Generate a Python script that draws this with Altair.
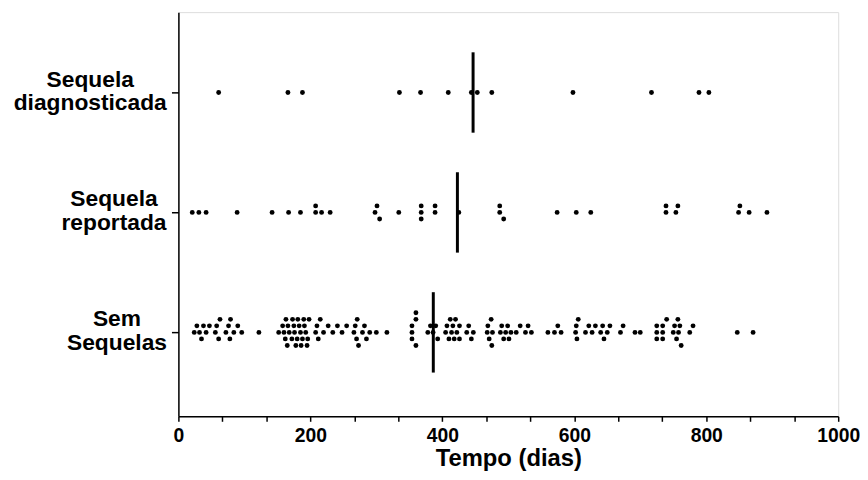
import altair as alt
import pandas as pd

# ---------------- data ----------------
categories = ["Sequela diagnosticada", "Sequela reportada", "Sem Sequelas"]
category_rows = [3, 2, 1]
label_text = ["Sequela\ndiagnosticada", "Sequela\nreportada", "Sem\nSequelas"]

diagnosticada = [61, 166, 188, 335, 367, 409, 444, 453, 475, 598, 717, 789, 804]

reportada = [21, 31, 42, 89, 142, 167, 185, 208, 208, 217, 230, 298, 301, 305,
             334, 368, 368, 368, 389, 389, 425, 487, 487, 493, 574, 603, 625,
             739, 739, 754, 757, 849, 851, 865, 892]

sem_sequelas = [24, 28, 32, 35, 38, 42, 47,
                56, 58, 61, 63, 72, 76, 78, 79,
                84, 90, 96, 122, 152,
                158, 160, 162, 163, 165, 166, 168, 172, 173, 175, 176, 178,
                180, 181, 183, 185, 186, 188, 190, 191, 193, 195, 196, 198,
                208, 210, 212, 215, 220,
                227, 234, 241, 248, 255,
                266, 268, 270, 271, 273,
                279, 282, 285, 290, 300, 316,
                354, 354, 354, 360, 360, 360,
                378, 382, 386, 390, 393,
                405, 407, 410, 412,
                414, 416, 418, 420, 422, 426, 426,
                437, 440, 444, 447,
                468, 469, 471, 474, 475, 476,
                488, 490, 493, 496, 499, 501, 504,
                512, 518, 526, 530, 535,
                560, 570, 575, 580,
                602, 603, 604, 606, 617,
                622, 627, 632, 640, 643, 645, 650, 654,
                670, 674, 692, 700,
                725, 725, 725, 734, 734, 734,
                740, 750, 752, 755, 757, 758, 760, 762,
                775, 780, 847, 871]

x_ticks = [i * 200 / 3 for i in range(16)]

# ---------------- layout constants ----------------
PLOT_W, PLOT_H = 666, 408
Y_DOMAIN = [0.30, 3.67]
PX_PER_DAY = PLOT_W / 1000
DOT_GAP_PX = 4.8
ROW_STEP = 6.6 / (PLOT_H / (Y_DOMAIN[1] - Y_DOMAIN[0]))
HALF_LINE = 0.335
label_anchor_px = [-89, -65, -62]
FONT = "Liberation Sans"
LABEL_SIZE = 23
LABEL_LH = 24


def swarm(values, base):
    """Simple row-based beeswarm: offset each dot to the nearest free row."""
    placed = []
    out = []
    order = [0, 1, -1, 2, -2, 3, -3, 4, -4]
    for v in sorted(values):
        px = v * PX_PER_DAY
        for r in order:
            if all(abs(px - p) >= DOT_GAP_PX for p, rr in placed if rr == r):
                break
        placed.append((px, r))
        out.append((v, base + r * ROW_STEP))
    return out


rows = []
for name, base, vals in zip(categories, category_rows,
                            [diagnosticada, reportada, sem_sequelas]):
    for v, y in swarm(vals, base):
        rows.append({"grupo": name, "base": base, "tempo": v, "ypos": y})
df = pd.DataFrame(rows)

x_scale = alt.Scale(domain=[0, 1000], nice=False, zero=False)
y_scale = alt.Scale(domain=Y_DOMAIN, nice=False, zero=False)

x_axis = alt.Axis(values=x_ticks, labelExpr="abs(datum.value - round(datum.value/200)*200) < 0.5 ? format(datum.value, 'd') : ''",
                  title="Tempo (dias)", grid=False, domainColor="black", domainWidth=1.5,
                  tickColor="black", tickWidth=1.5, tickSize=5, labelFont=FONT,
                  labelFontSize=19.5, labelFontWeight="bold", labelColor="black",
                  labelPadding=5, labelFlush=False, titleFont=FONT, titleFontSize=24,
                  titleFontWeight="bold", titleColor="black", titlePadding=2)
y_axis = alt.Axis(values=category_rows, labels=False, title=None, grid=False,
                  domainColor="black", domainWidth=1.5, tickColor="black",
                  tickWidth=1.5, tickSize=7)

dots = alt.Chart(df).mark_circle(size=24, color="black", opacity=1).encode(
    x=alt.X("tempo:Q", scale=x_scale, axis=x_axis),
    y=alt.Y("ypos:Q", scale=y_scale, axis=y_axis),
)

means = alt.Chart(df).transform_aggregate(
    m="mean(tempo)", groupby=["grupo", "base"]
).transform_calculate(
    y1=f"datum.base - {HALF_LINE}", y2=f"datum.base + {HALF_LINE}"
).mark_rule(color="black", strokeWidth=3).encode(
    x=alt.X("m:Q", scale=x_scale),
    y=alt.Y("y1:Q", scale=y_scale),
    y2="y2:Q",
)

labels = []
for txt, pos, ax in zip(label_text, category_rows, label_anchor_px):
    labels.append(
        alt.Chart(pd.DataFrame({"t": [txt]})).mark_text(
            align="center", baseline="middle", lineBreak="\n", font=FONT,
            fontSize=LABEL_SIZE, fontWeight="bold", color="black",
            lineHeight=LABEL_LH, dy=-LABEL_LH / 2 - 1
        ).encode(x=alt.value(ax), y=alt.datum(pos, scale=y_scale), text="t:N")
    )

chart = alt.layer(dots, means, *labels).properties(
    width=PLOT_W, height=PLOT_H,
    autosize=alt.AutoSizeParams(type="none"),
    padding={"left": 172, "top": 2, "right": 22, "bottom": 53},
).configure_view(stroke=None).configure(background="white")

chart.save("out.html", embed_options={"renderer": "svg", "actions": False})
